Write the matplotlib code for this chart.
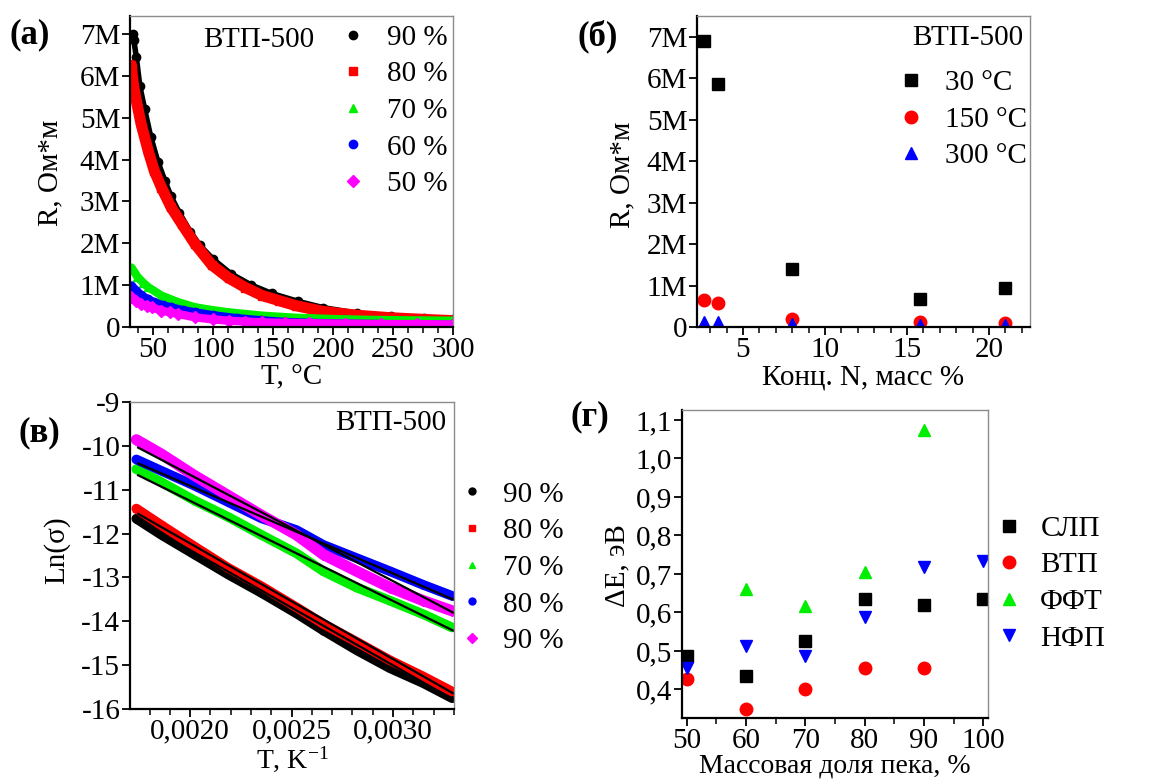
import numpy as np
from matplotlib import pyplot as plt
from matplotlib import rcParams
from matplotlib.ticker import MultipleLocator, FixedLocator, FuncFormatter

rcParams["font.family"] = ["Liberation Serif", "DejaVu Serif"]
rcParams["font.size"] = 21
rcParams["mathtext.fontset"] = "custom"
rcParams["mathtext.rm"] = "Liberation Serif"
rcParams["mathtext.it"] = "Liberation Serif:italic"
rcParams["axes.unicode_minus"] = False

FS = 21

# (а) R(T), values in MOhm*m
T_90 = [33, 34, 36, 39, 43, 48, 54, 60, 65, 72, 81, 89, 100, 115, 132, 149, 171, 192, 220, 248, 276, 300]
R_90 = [7.0, 6.85, 6.45, 5.75, 5.2, 4.55, 3.95, 3.48, 3.12, 2.72, 2.28, 1.95, 1.62, 1.27, 1.0, 0.8, 0.61, 0.46, 0.33, 0.26, 0.22, 0.2]
T_80 = [32, 33, 35, 40, 46, 51, 57, 65, 74, 85, 99, 113, 127, 141, 155, 169, 192, 220, 248, 276, 300]
R_80 = [6.25, 5.9, 5.55, 4.85, 4.2, 3.73, 3.33, 2.86, 2.46, 1.98, 1.48, 1.17, 0.94, 0.75, 0.63, 0.51, 0.37, 0.28, 0.22, 0.18, 0.15]
T_70 = [32, 37, 42, 46, 57, 71, 85, 100, 113, 127, 141, 169, 200, 230, 260, 300]
R_70 = [1.42, 1.2, 1.05, 0.95, 0.75, 0.59, 0.47, 0.40, 0.35, 0.31, 0.27, 0.22, 0.19, 0.17, 0.16, 0.15]
T_60 = [32, 36, 40, 46, 51, 58, 65, 75, 85, 100, 120, 140, 160, 180, 210, 240, 270, 300]
R_60 = [0.99, 0.87, 0.76, 0.66, 0.59, 0.52, 0.47, 0.40, 0.35, 0.28, 0.21, 0.16, 0.12, 0.10, 0.08, 0.07, 0.06, 0.05]
T_50 = [32, 36, 40, 45, 49, 57, 64, 71, 85, 100, 113, 127, 141, 160, 180, 210, 240, 270, 300]
R_50 = [0.71, 0.62, 0.55, 0.50, 0.47, 0.39, 0.35, 0.31, 0.23, 0.18, 0.15, 0.13, 0.11, 0.10, 0.09, 0.08, 0.07, 0.07, 0.06]

# (б) R vs N content
conc_N = [2.6, 3.5, 8.0, 15.8, 21.0]
R_30C = [6.9, 5.85, 1.4, 0.68, 0.93]
R_150C = [0.65, 0.57, 0.2, 0.12, 0.1]
R_300C = [0.13, 0.12, 0.06, 0.05, 0.04]

# (в) Ln(sigma) vs 1/T
invT = [0.001735, 0.001859, 0.002023, 0.002187, 0.002351, 0.002524, 0.002657, 0.002821, 0.002985, 0.003149, 0.003290]
ln_90 = [-11.66, -12.03, -12.48, -12.93, -13.35, -13.82, -14.21, -14.66, -15.07, -15.41, -15.75]
ln_80 = [-11.43, -11.81, -12.30, -12.78, -13.20, -13.68, -14.06, -14.47, -14.89, -15.26, -15.60]
ln_70 = [-10.53, -10.83, -11.25, -11.62, -12.03, -12.45, -12.86, -13.23, -13.53, -13.84, -14.14]
ln_60 = [-10.31, -10.57, -10.91, -11.28, -11.65, -11.92, -12.26, -12.56, -12.86, -13.17, -13.42]
ln_50 = [-9.86, -10.19, -10.68, -11.13, -11.58, -12.03, -12.48, -12.86, -13.23, -13.53, -13.76]
fit_x = [0.001744, 0.003295]
fit_90 = [-11.70, -15.78]
fit_80 = [-11.55, -15.64]
fit_70 = [-10.67, -14.21]
fit_60 = [-10.40, -13.50]
fit_50 = [-10.04, -13.80]

# (г) activation energy
pitch = [50, 60, 70, 80, 90, 100]
dE_slp = [0.486, 0.436, 0.527, 0.635, 0.619, 0.635]
pitch_vtp = [50, 60, 70, 80, 90]
dE_vtp = [0.427, 0.350, 0.402, 0.456, 0.456]
pitch_fft = [60, 70, 80, 90]
dE_fft = [0.662, 0.617, 0.706, 1.074]
dE_nfp = [0.456, 0.514, 0.488, 0.587, 0.717, 0.735]

GREEN = "#00ee00"
MAGENTA = "#ff00ff"
BLUE = "#0000ff"
RED = "#ff0000"


def style_axes(ax):
    for side in ("left", "bottom"):
        ax.spines[side].set_linewidth(1.6)
        ax.spines[side].set_color("black")
    for side in ("top", "right"):
        ax.spines[side].set_linewidth(1.0)
        ax.spines[side].set_color("#8c8c8c")
    ax.tick_params(which="major", direction="out", length=6, width=1.3, labelsize=FS, pad=1)
    ax.tick_params(which="minor", direction="out", length=4, width=1.1)
    ax.tick_params(which="both", top=False, right=False)


def mega(v, pos):
    if abs(v) < 1e-9:
        return "0"
    return "%dM" % round(v)


def comma(fmt):
    return FuncFormatter(lambda v, pos: (fmt % v).replace(".", ","))


def put_legend(ax, anchor, pad, handles=None, labels=None):
    kw = dict(loc="upper left", bbox_to_anchor=anchor, frameon=False, borderpad=0,
              borderaxespad=0, handlelength=1.0, handletextpad=pad, labelspacing=0.35,
              numpoints=1, fontsize=FS)
    if handles is None:
        ax.legend(**kw)
    else:
        ax.legend(handles, labels, **kw)


fig = plt.figure(figsize=(11.59, 7.8), dpi=100)

# ---------- (а)
ax = fig.add_axes([0.1122, 0.5808, 0.2787, 0.3987])
series_a = [(T_90, R_90, "black", "o", 7, 4, "90 %"),
            (T_80, R_80, RED, "s", 6, 8, "80 %"),
            (T_70, R_70, GREEN, "^", 6, 6, "70 %"),
            (T_60, R_60, BLUE, "o", 6, 6, "60 %"),
            (T_50, R_50, MAGENTA, "D", 5, 6, "50 %")]
for T, R, c, m, ms, lw, lab in series_a:
    ax.plot(T, R, "-", color=c, lw=lw, solid_capstyle="round")
    ax.plot(T, R, ls="none", marker=m, ms=ms, color=c, label=lab)
ax.set_xlim(30.8, 300)
ax.set_ylim(0, 7.43)
ax.xaxis.set_major_locator(MultipleLocator(50))
ax.xaxis.set_minor_locator(MultipleLocator(12.5))
ax.yaxis.set_major_locator(MultipleLocator(1))
ax.yaxis.set_major_formatter(FuncFormatter(mega))
style_axes(ax)
ax.set_xlabel("T, °C", labelpad=1)
ax.set_ylabel("R, Ом*м")
ax.yaxis.set_label_coords(-0.207, 0.495)
ax.text(0.40, 0.923, "ВТП-500", transform=ax.transAxes, ha="center", va="center", fontsize=FS)
handles, labels = ax.get_legend_handles_labels()
for h in handles:
    h.set_markersize(6)
put_legend(ax, (0.645, 0.973), 0.67, handles, labels)

# ---------- (б)
ax = fig.add_axes([0.6014, 0.5808, 0.2873, 0.3987])
ax.plot(conc_N, R_30C, ls="none", marker="s", ms=8.5, color="black", label="30 °C")
ax.plot(conc_N, R_150C, ls="none", marker="o", ms=9, color=RED, label="150 °C")
ax.plot(conc_N, R_300C, ls="none", marker="^", ms=9, color=BLUE, label="300 °C")
ax.set_xlim(2.2, 22.5)
ax.set_ylim(0, 7.5)
ax.xaxis.set_major_locator(MultipleLocator(5))
ax.xaxis.set_minor_locator(MultipleLocator(1))
ax.yaxis.set_major_locator(MultipleLocator(1))
ax.yaxis.set_major_formatter(FuncFormatter(mega))
style_axes(ax)
ax.set_xlabel("Конц. N, масс %", labelpad=1)
ax.set_ylabel("R, Ом*м")
ax.yaxis.set_label_coords(-0.186, 0.49)
ax.text(0.814, 0.929, "ВТП-500", transform=ax.transAxes, ha="center", va="center", fontsize=FS)
put_legend(ax, (0.599, 0.827), 0.67)

# ---------- (в)
ax = fig.add_axes([0.1122, 0.0910, 0.2795, 0.3936])
series_v = [(ln_90, "black", "o", 6, 7, "90 %"),
            (ln_80, RED, "s", 5.5, 7, "80 %"),
            (ln_70, GREEN, "^", 6, 7, "70 %"),
            (ln_60, BLUE, "o", 6, 7, "80 %"),
            (ln_50, MAGENTA, "D", 5, 8, "90 %")]
for Y, c, m, ms, lw, lab in series_v:
    ax.plot(invT, Y, "-", color=c, lw=lw, solid_capstyle="round")
    ax.plot(invT, Y, ls="none", marker=m, ms=ms, color=c, label=lab)
for F in (fit_90, fit_80, fit_70, fit_60, fit_50):
    ax.plot(fit_x, F, "-", color="black", lw=1.6)
ax.set_xlim(0.001704, 0.0033)
ax.set_ylim(-16, -9)
ax.xaxis.set_major_locator(FixedLocator([0.0020, 0.0025, 0.0030]))
ax.xaxis.set_minor_locator(MultipleLocator(0.0001))
ax.xaxis.set_major_formatter(comma("%.4f"))
ax.yaxis.set_major_locator(MultipleLocator(1))
ax.yaxis.set_major_formatter(FuncFormatter(lambda v, pos: "%d" % round(v)))
style_axes(ax)
ax.set_xlabel("T, K$^{-1}$", labelpad=0, fontsize=20)
ax.set_ylabel("Ln(σ)")
ax.yaxis.set_label_coords(-0.185, 0.518)
ax.text(0.806, 0.932, "ВТП-500", transform=ax.transAxes, ha="center", va="center", fontsize=FS)
handles, labels = ax.get_legend_handles_labels()
for h in handles:
    h.set_markersize(5)
put_legend(ax, (1.0105, 0.742), 0.57, handles, labels)

# ---------- (г)
ax = fig.add_axes([0.5884, 0.0795, 0.2641, 0.3949])
ax.plot(pitch, dE_slp, ls="none", marker="s", ms=8.5, color="black", label="СЛП")
ax.plot(pitch_vtp, dE_vtp, ls="none", marker="o", ms=9, color=RED, label="ВТП")
ax.plot(pitch_fft, dE_fft, ls="none", marker="^", ms=9, color=GREEN, label="ФФТ")
ax.plot(pitch, dE_nfp, ls="none", marker="v", ms=9, color=BLUE, label="НФП")
ax.set_xlim(49.2, 100.8)
ax.set_ylim(0.326, 1.126)
ax.xaxis.set_major_locator(MultipleLocator(10))
ax.xaxis.set_minor_locator(MultipleLocator(5))
ax.yaxis.set_major_locator(FixedLocator([0.4, 0.5, 0.6, 0.7, 0.8, 0.9, 1.0, 1.1]))
ax.yaxis.set_major_formatter(comma("%.1f"))
style_axes(ax)
ax.set_xlabel("Массовая доля пека, %", labelpad=0, fontsize=20)
ax.set_ylabel("ΔE, эВ")
ax.yaxis.set_label_coords(-0.17, 0.494)
put_legend(ax, (1.021, 0.658), 0.57)

# panel letters
fig.text(0.0259, 0.955, "(а)", ha="center", va="center", fontsize=25, fontweight="bold")
fig.text(0.516, 0.953, "(б)", ha="center", va="center", fontsize=25, fontweight="bold")
fig.text(0.0336, 0.445, "(в)", ha="center", va="center", fontsize=25, fontweight="bold")
fig.text(0.509, 0.465, "(г)", ha="center", va="center", fontsize=25, fontweight="bold")

plt.savefig("out.png", dpi=100)
